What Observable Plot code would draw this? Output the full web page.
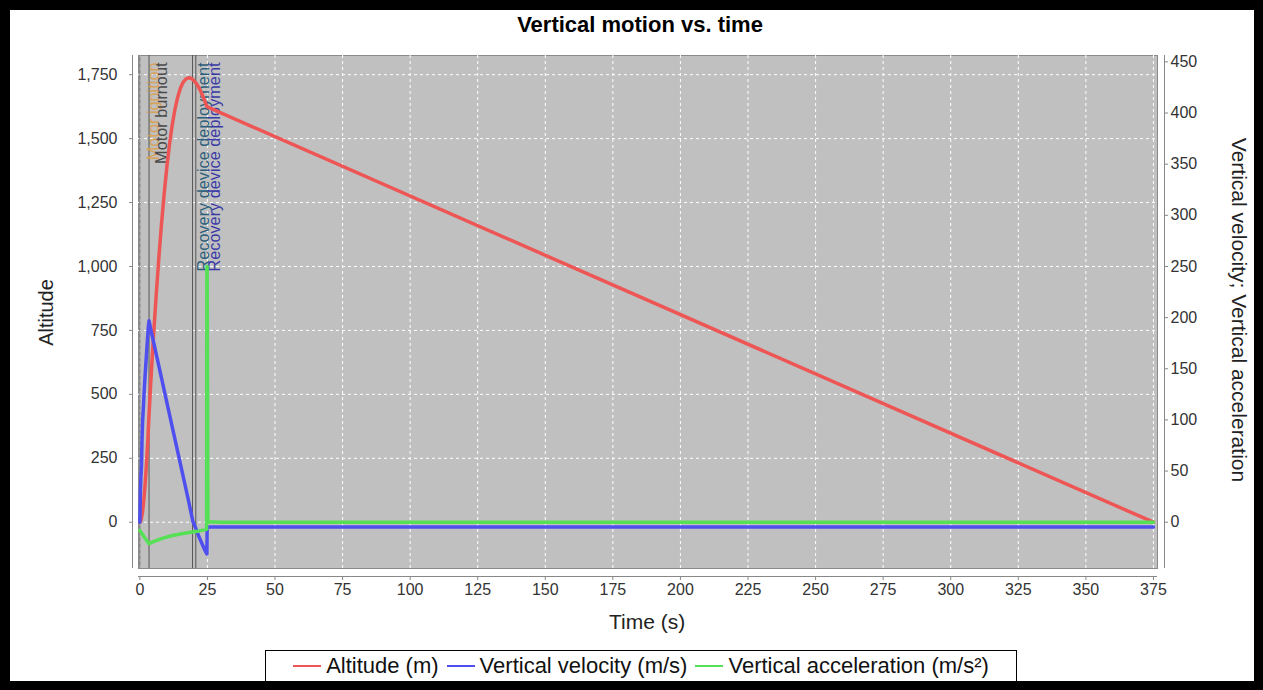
<!DOCTYPE html>
<html><head><meta charset="utf-8">
<script src="https://cdn.jsdelivr.net/npm/d3@7"></script>
<script src="https://cdn.jsdelivr.net/npm/@observablehq/plot@0.6"></script>
<style>
html,body{margin:0;padding:0;background:#fff;width:1263px;height:690px;overflow:hidden;font-family:"Liberation Sans",Arial,sans-serif;}
#frame{position:absolute;left:0;top:0;width:1263px;height:690px;box-sizing:border-box;border-style:solid;border-color:#000;border-width:10px 9px 9px 10px;pointer-events:none;z-index:10;}
#title{position:absolute;left:0;width:1263px;top:12px;text-align:center;font-weight:bold;font-size:22px;color:#000;}
#chart{position:absolute;left:0;top:0;}
.axlabel{position:absolute;font-size:20px;color:#222;white-space:nowrap;transform-origin:center;}
#legend{position:absolute;left:265px;top:650px;width:752px;height:40px;border:1px solid #000;box-sizing:border-box;background:#fff;display:flex;justify-content:center;padding-top:3px;font-size:22px;color:#111;}
#legend .item{display:flex;align-items:center;margin:0 4px;height:24px;}
#legend svg{margin-right:5px;}
</style></head>
<body>
<div id="title">Vertical motion vs. time</div>
<div id="chart"></div>
<div class="axlabel" id="ylab">Altitude</div>
<div class="axlabel" id="y2lab" style="font-size:21px">Vertical velocity; Vertical acceleration</div>
<div class="axlabel" id="xlab" style="font-size:21px">Time (s)</div>
<div id="legend"></div>
<div id="frame"></div>
<script>
// ---- data ----
const altitudeTime = [0,0.5,1,1.5,2,2.5,3,3.4,4,5,6,7,8,9,10,11,12,13,14,15,16,17,18,19,20,21,22,23,24,24.8,26,375];
const altitudeM    = [0,10,40,90,155,235,330,420,540,720,880,1030,1165,1285,1390,1480,1555,1615,1662,1697,1720,1733,1738,1736,1727,1714,1696,1674,1648,1625,1619,0];

const velocityTime = [0,0.1,0.2,0.4,0.6,0.8,1.0,1.3,1.6,2.0,2.4,2.8,3.1,3.4,4,6,8,10,12,14,16,18,19.6,20.7,22,23,24,24.8,24.9,26,375];
const velocityMs   = [0,12,30,45,55,80,98,112,128,146,162,178,190,197,189,165,141,117,93,69,45,21,1,-6,-15,-21,-27,-31,-5,-4.6,-4.6];

const accelTime = [0,1,2,3.4,5,8,12,16,19.5,22,24.7,24.8,24.9,25.2,30,375];
const accelMs2  = [-8,-12,-16,-21,-19,-16,-13,-11,-9.5,-8.5,-7,250,250,0.5,0,0];

const eventTime  = [0, 3.4, 19.5, 20.7];
const eventName  = ["Motor ignition","Motor burnout","Recovery device deployment","Recovery device deployment"];

const seriesNames = ["Altitude (m)","Vertical velocity (m/s)","Vertical acceleration (m/s²)"];

const xTicks  = d3.range(0, 376, 25);
const yTicks  = d3.range(0, 1751, 250);
const y2Ticks = d3.range(0, 451, 50);

// ---- layout / style config ----
const colors = ["#ee5555","#4f4ff0","#55e055"];
const eventLineColor = ["#6a6a6a","#555555","#555555","#555555"];
const eventLabelColor = ["#dba050","#4a4a4a","#2d5f7a","#3a3aa6"];
const eventLabelDx = [8, 6, 5, 13];
const xDomain = [-0.5, 376.5];
const yDomain = [-181, 1825];
const rightFactor = 4; // right axis unit -> left axis unit

const rows = [];
altitudeTime.forEach((t,i)=>rows.push({t, v: altitudeM[i], s: 0}));
velocityTime.forEach((t,i)=>rows.push({t, v: velocityMs[i]*rightFactor, s: 1}));
accelTime.forEach((t,i)=>rows.push({t, v: accelMs2[i]*rightFactor, s: 2}));
const events = eventTime.map((t,i)=>({t, name: eventName[i], i}));

const font = '"Liberation Sans", Arial, sans-serif';

const plot = Plot.plot({
  width: 1263, height: 640,
  marginLeft: 138, marginRight: 106, marginTop: 55, marginBottom: 72,
  style: {fontFamily: font, fontSize: "16px", color: "#333", background: "transparent", overflow: "visible"},
  x: {domain: xDomain, axis: null},
  y: {domain: yDomain, axis: null},
  marks: [
    Plot.frame({fill: "#c0c0c0", stroke: "#8a8a8a"}),
    Plot.gridX(xTicks, {stroke: "#fff", strokeOpacity: 1, strokeDasharray: "3,3"}),
    Plot.gridY(yTicks, {stroke: "#fff", strokeOpacity: 1, strokeDasharray: "3,3"}),
    Plot.ruleX(events, {x: "t", stroke: (d)=>eventLineColor[d.i], strokeWidth: 1}),
    ...events.map((e,i)=>Plot.text([e], {x: "t", text: "name", frameAnchor: "top", rotate: -90, textAnchor: "end", dy: 7, dx: eventLabelDx[i], fill: eventLabelColor[i], fontSize: 16.3, opacity: i===0 ? 0.9 : 1})),
    ...[0,1,2].map(s=>Plot.line(rows.filter(r=>r.s===s), {x: "t", y: "v", stroke: colors[s], strokeWidth: 3.5, strokeLinejoin: "round"})),
    // axis lines
    Plot.ruleX([xDomain[0]], {dx: -6, stroke: "#888"}),
    Plot.ruleX([xDomain[1]], {dx: 7, stroke: "#888"}),
    Plot.ruleY([yDomain[0]], {dy: 8, stroke: "#888"}),
    Plot.axisY({anchor: "left", ticks: yTicks, tickFormat: d3.format(","), tickSize: 3, tickPadding: 12, dx: -6, label: null, stroke: "#888", fill: "#333"}),
    Plot.axisY({anchor: "right", ticks: y2Ticks.map(d=>d*rightFactor), tickFormat: d=>String(d/rightFactor), tickSize: 3, tickPadding: 3, dx: 7, label: null, stroke: "#888", fill: "#333"}),
    Plot.axisX({anchor: "bottom", ticks: xTicks, tickSize: 4, tickPadding: 3, dy: 8, label: null, stroke: "#888", fill: "#333"})
  ]
});
document.getElementById("chart").appendChild(plot);

// axis titles
function place(id, cx, cy, rot){
  const el = document.getElementById(id);
  const w = el.offsetWidth, h = el.offsetHeight;
  el.style.left = (cx - w/2) + "px";
  el.style.top = (cy - h/2) + "px";
  if (rot) el.style.transform = `rotate(${rot}deg)`;
}
place("ylab", 46, 312, -90);
place("y2lab", 1239, 310, 90);
place("xlab", 647, 622, 0);
place("title", 640, 25, 0);

// legend
const legend = document.getElementById("legend");
seriesNames.forEach((n,i)=>{
  const item = document.createElement("div");
  item.className = "item";
  item.innerHTML = `<svg width="28" height="10"><line x1="0" x2="28" y1="5" y2="5" stroke="${colors[i]}" stroke-width="2"/></svg><span>${n}</span>`;
  legend.appendChild(item);
});
</script>
</body></html>
